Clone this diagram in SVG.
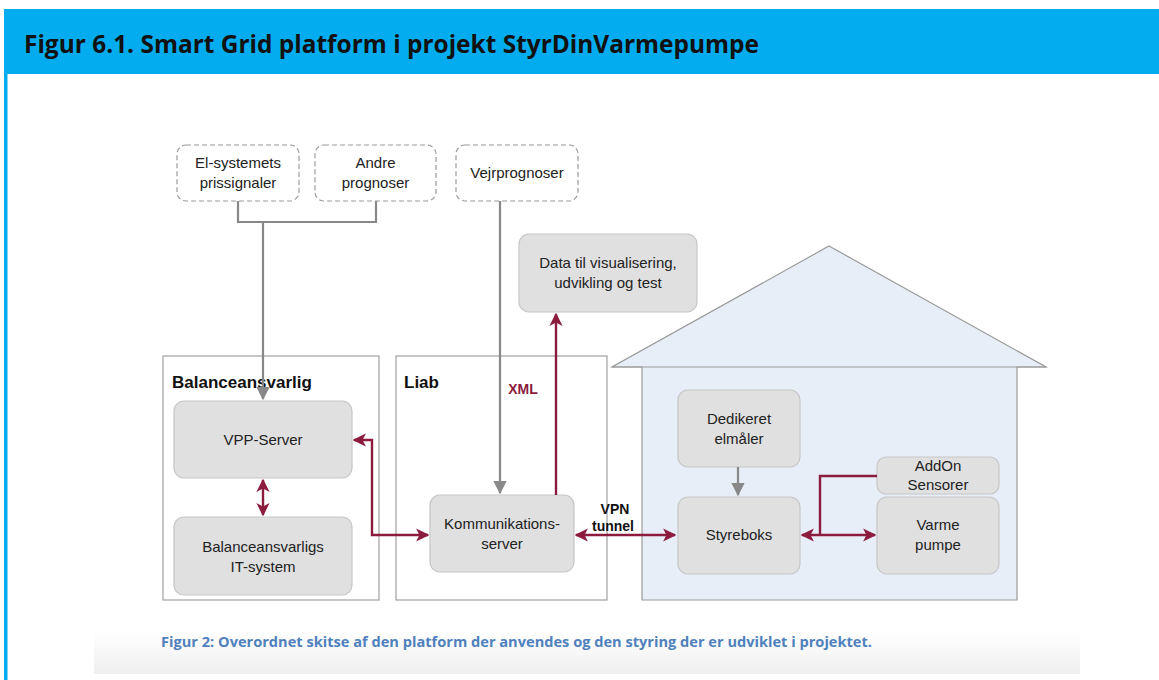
<svg xmlns="http://www.w3.org/2000/svg" width="1159" height="680" viewBox="0 0 1159 680">
<defs>
  <style>
    .t{font-family:"Liberation Sans",Arial,sans-serif;font-size:15px;fill:#222;text-anchor:middle}
    .h{font-family:"Liberation Sans",Arial,sans-serif;font-size:17px;font-weight:bold;fill:#111}
    .lbl{font-family:"Liberation Sans",Arial,sans-serif;font-size:14px;font-weight:bold;text-anchor:middle}
    .box{fill:#e0e0e0;stroke:#c6c6c6;stroke-width:1.2}
    .dash{fill:#fff;stroke:#9a9a9a;stroke-width:1.2;stroke-dasharray:5,3}
    .cont{fill:#fff;stroke:#a0a0a0;stroke-width:1.2}
    .g{fill:none;stroke:#888;stroke-width:2.2}
    .r{fill:none;stroke:#8c1c3e;stroke-width:2.4}
  </style>
  <marker id="ag" viewBox="0 0 10 10" refX="9" refY="5" markerWidth="6" markerHeight="6" markerUnits="strokeWidth" orient="auto-start-reverse">
    <path d="M0,0 L10,5 L0,10 z" fill="#888"/>
  </marker>
  <marker id="ar" viewBox="0 0 10 10" refX="9" refY="5" markerWidth="5.5" markerHeight="5.5" markerUnits="strokeWidth" orient="auto-start-reverse">
    <path d="M0,0 L10,5 L0,10 L2.5,5 z" fill="#8c1c3e"/>
  </marker>
  <linearGradient id="capg" x1="0" y1="0" x2="0" y2="1">
    <stop offset="0" stop-color="#ffffff"/>
    <stop offset="1" stop-color="#efefef"/>
  </linearGradient>
</defs>
<rect x="0" y="0" width="1159" height="680" fill="#fff"/>
<!-- header -->
<rect x="4" y="9" width="1155" height="65" fill="#02acef"/>
<rect x="4" y="9" width="3.5" height="671" fill="#02acef"/>
<text x="24" y="53" font-family="'Open Sans','Liberation Sans',sans-serif" font-size="25" font-weight="bold" fill="#111" textLength="735" lengthAdjust="spacingAndGlyphs">Figur 6.1. Smart Grid platform i projekt StyrDinVarmepumpe</text>
<!-- caption -->
<rect x="94" y="632" width="986" height="42" fill="url(#capg)"/>
<text x="161" y="647" font-family="'Open Sans','Liberation Sans',sans-serif" font-size="14.5" font-weight="bold" fill="#4f81bd" textLength="711" lengthAdjust="spacingAndGlyphs">Figur 2: Overordnet skitse af den platform der anvendes og den styring der er udviklet i projektet.</text>

<!-- containers -->
<g id="balanceansvarlig">
  <rect class="cont" x="163" y="356" width="216" height="244"/>
  <text class="h" x="172" y="388">Balanceansvarlig</text>
</g>
<g id="liab">
  <rect class="cont" x="396" y="356" width="211" height="244"/>
  <text class="h" x="404" y="388">Liab</text>
</g>
<g id="house">
  <polygon points="829,246 1046,367 1017,367 1017,600 642,600 642,367 612,367" fill="#e8eef7" stroke="#9a9a9a" stroke-width="1.2"/>
  <line x1="612" y1="367" x2="1046" y2="367" stroke="#9a9a9a" stroke-width="1.2"/>
</g>

<!-- source nodes -->
<g id="el-systemets">
  <rect class="dash" x="177" y="145" width="122" height="56" rx="9"/>
  <text class="t" x="238" y="168">El-systemets</text>
  <text class="t" x="238" y="188">prissignaler</text>
</g>
<g id="andre">
  <rect class="dash" x="315" y="145" width="121" height="56" rx="9"/>
  <text class="t" x="375.5" y="168">Andre</text>
  <text class="t" x="375.5" y="188">prognoser</text>
</g>
<g id="vejr">
  <rect class="dash" x="456" y="145" width="122" height="56" rx="9"/>
  <text class="t" x="517" y="178">Vejrprognoser</text>
</g>
<g id="data">
  <rect class="box" x="519" y="234" width="178" height="78" rx="10"/>
  <text class="t" x="608" y="268">Data til visualisering,</text>
  <text class="t" x="608" y="288">udvikling og test</text>
</g>
<g id="vpp">
  <rect class="box" x="174" y="401" width="178" height="77" rx="10"/>
  <text class="t" x="263" y="445">VPP-Server</text>
</g>
<g id="it">
  <rect class="box" x="174" y="517" width="178" height="78" rx="10"/>
  <text class="t" x="263" y="552">Balanceansvarligs</text>
  <text class="t" x="263" y="572">IT-system</text>
</g>
<g id="komm">
  <rect class="box" x="430" y="495" width="144" height="77" rx="10"/>
  <text class="t" x="502" y="529">Kommunikations-</text>
  <text class="t" x="502" y="549">server</text>
</g>
<g id="elmaaler">
  <rect class="box" x="678" y="390" width="122" height="77" rx="10"/>
  <text class="t" x="739" y="424">Dedikeret</text>
  <text class="t" x="739" y="444">elmåler</text>
</g>
<g id="styreboks">
  <rect class="box" x="678" y="497" width="122" height="77" rx="10"/>
  <text class="t" x="739" y="540">Styreboks</text>
</g>
<g id="addon">
  <rect class="box" x="877" y="457" width="122" height="37" rx="9"/>
  <text class="t" x="938" y="471">AddOn</text>
  <text class="t" x="938" y="490">Sensorer</text>
</g>
<g id="varme">
  <rect class="box" x="877" y="497" width="122" height="77" rx="10"/>
  <text class="t" x="938" y="530">Varme</text>
  <text class="t" x="938" y="550">pumpe</text>
</g>

<!-- connectors -->
<g id="connectors">
  <path class="g" d="M238,201 V222 H376 V201"/>
  <path class="g" d="M263,222 V399" marker-end="url(#ag)"/>
  <path class="g" d="M500,201 V493" marker-end="url(#ag)"/>
  <path class="g" d="M738,467 V495" marker-end="url(#ag)"/>
  <path class="r" d="M556,495 V314" marker-end="url(#ar)"/>
  <path class="r" d="M263,480 V515" marker-start="url(#ar)" marker-end="url(#ar)"/>
  <path class="r" d="M354,440 H372 V535 H428" marker-start="url(#ar)" marker-end="url(#ar)"/>
  <path class="r" d="M576,535 H675" marker-start="url(#ar)" marker-end="url(#ar)"/>
  <path class="r" d="M802,535 H875" marker-start="url(#ar)" marker-end="url(#ar)"/>
  <path class="r" d="M877,476 H820 V535"/>
  <text class="lbl" x="523" y="394" fill="#8c1c3e">XML</text>
  <text class="lbl" x="615" y="514" fill="#111">VPN</text>
  <text class="lbl" x="613" y="531" fill="#111">tunnel</text>
</g>
</svg>
